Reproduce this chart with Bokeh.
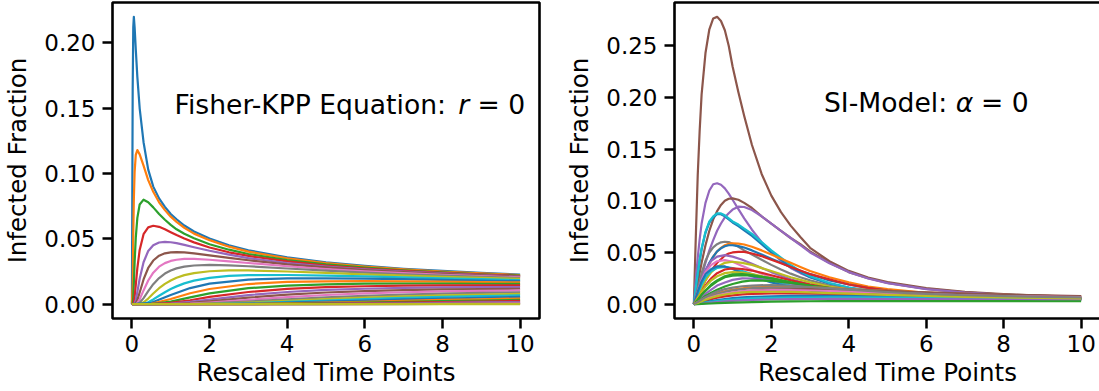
from bokeh.plotting import figure
from bokeh.layouts import row
from bokeh.models import Range1d, FixedTicker, Label, ColumnDataSource, NumeralTickFormatter
from bokeh.embed import file_html
from bokeh.resources import INLINE

# ---------------- data ----------------
x_ticks = [0, 2, 4, 6, 8, 10]
fisher_y_ticks = [0.0, 0.05, 0.10, 0.15, 0.20]
si_y_ticks = [0.0, 0.05, 0.10, 0.15, 0.20, 0.25]

x_label = "Rescaled Time Points"
y_label = "Infected Fraction"

# Fisher-KPP (r = 0): early-peaking curves on a fine time grid
fisher_t_fine = [0, 0.02, 0.035, 0.05, 0.07, 0.1, 0.14, 0.2, 0.3, 0.42, 0.55, 0.7, 0.85, 1.0,
                 1.15, 1.35, 1.6, 2.0, 2.5, 3, 4, 5, 6, 7, 8, 9, 10]
fisher_upper = [
    [0, 0.164, 0.212, 0.220, 0.212, 0.195, 0.174, 0.150, 0.124, 0.103, 0.090, 0.081, 0.0745, 0.069,
     0.0650, 0.0602, 0.0556, 0.0502, 0.0451, 0.0412, 0.0358, 0.0320, 0.0293, 0.0271, 0.0254, 0.0239, 0.0227],
    [0, 0.0155, 0.0527, 0.0803, 0.1012, 0.1143, 0.118, 0.1147, 0.106, 0.095, 0.086, 0.078, 0.072, 0.067,
     0.063, 0.0585, 0.054, 0.049, 0.044, 0.0402, 0.0350, 0.0314, 0.0287, 0.0266, 0.0249, 0.0235, 0.0223],
    [0, 0.0003, 0.0053, 0.0161, 0.0320, 0.0509, 0.0661, 0.0763, 0.0800, 0.0780, 0.0741, 0.0690, 0.0646, 0.0607,
     0.0573, 0.0539, 0.0504, 0.0459, 0.0417, 0.0384, 0.0337, 0.0304, 0.0279, 0.0259, 0.0243, 0.0229, 0.0218],
    [0, 0, 0.0002, 0.0013, 0.0055, 0.0148, 0.0275, 0.0415, 0.0536, 0.0588, 0.0600, 0.0592, 0.0574, 0.0551,
     0.0529, 0.0502, 0.0473, 0.0434, 0.0397, 0.0369, 0.0327, 0.0296, 0.0273, 0.0254, 0.0239, 0.0226, 0.0215],
    [0, 0, 0, 0.0001, 0.0006, 0.0033, 0.0093, 0.0194, 0.0321, 0.0407, 0.0451, 0.0472, 0.0477, 0.0474,
     0.0467, 0.0454, 0.0436, 0.0409, 0.0379, 0.0353, 0.0315, 0.0288, 0.0266, 0.0249, 0.0235, 0.0223, 0.0212],
    [0, 0, 0, 0, 0, 0.0007, 0.0031, 0.0089, 0.0189, 0.0277, 0.0334, 0.0371, 0.0389, 0.0397,
     0.0399, 0.0396, 0.0389, 0.0374, 0.0354, 0.0336, 0.0305, 0.0281, 0.0261, 0.0245, 0.0232, 0.0220, 0.0210],
    [0, 0, 0, 0, 0, 0, 0.0009, 0.0037, 0.0105, 0.0181, 0.0241, 0.0287, 0.0314, 0.0331,
     0.0340, 0.0346, 0.0346, 0.0340, 0.0328, 0.0315, 0.0290, 0.0269, 0.0252, 0.0238, 0.0225, 0.0215, 0.0205],
    [0, 0, 0, 0, 0, 0, 0, 0.0011, 0.0046, 0.0100, 0.0153, 0.0200, 0.0234, 0.0258,
     0.0274, 0.0287, 0.0296, 0.0300, 0.0297, 0.0290, 0.0273, 0.0256, 0.0242, 0.0229, 0.0218, 0.0209, 0.0200],
    [0, 0, 0, 0, 0, 0, 0, 0, 0.0014, 0.0043, 0.0081, 0.0122, 0.0155, 0.0181,
     0.0202, 0.0222, 0.0238, 0.0252, 0.0258, 0.0258, 0.0250, 0.0239, 0.0228, 0.0218, 0.0209, 0.0201, 0.0193],
    [0, 0, 0, 0, 0, 0, 0, 0, 0, 0.0015, 0.0036, 0.0064, 0.0091, 0.0116,
     0.0136, 0.0159, 0.0180, 0.0201, 0.0216, 0.0222, 0.0223, 0.0218, 0.0212, 0.0205, 0.0198, 0.0191, 0.0185],
]

# Fisher-KPP: slowly rising curves on a coarse time grid
fisher_t_coarse = [0, 0.5, 1, 1.5, 2, 3, 4, 5, 6, 7, 8, 9, 10]
fisher_lower = [
    [0, 0.0010, 0.0070, 0.0123, 0.0157, 0.0188, 0.0197, 0.0198, 0.0195, 0.0191, 0.0186, 0.0181, 0.0176],
    [0, 0.0003, 0.0039, 0.0083, 0.0116, 0.0154, 0.0170, 0.0175, 0.0176, 0.0175, 0.0172, 0.0169, 0.0166],
    [0, 0.0001, 0.0019, 0.0052, 0.0082, 0.0122, 0.0142, 0.0152, 0.0157, 0.0158, 0.0158, 0.0156, 0.0155],
    [0, 0, 0.0009, 0.0030, 0.0055, 0.0093, 0.0117, 0.0130, 0.0137, 0.0141, 0.0143, 0.0143, 0.0143],
    [0, 0, 0.0004, 0.0017, 0.0035, 0.0069, 0.0093, 0.0109, 0.0118, 0.0124, 0.0128, 0.0130, 0.0130],
    [0, 0, 0.0001, 0.0009, 0.0021, 0.0050, 0.0073, 0.0089, 0.0100, 0.0108, 0.0113, 0.0116, 0.0118],
    [0, 0, 0, 0.0004, 0.0012, 0.0033, 0.0054, 0.0070, 0.0082, 0.0091, 0.0097, 0.0101, 0.0105],
    [0, 0, 0, 0.0001, 0.0006, 0.0020, 0.0037, 0.0052, 0.0064, 0.0073, 0.0080, 0.0086, 0.0090],
    [0, 0, 0, 0, 0.0003, 0.0012, 0.0025, 0.0038, 0.0050, 0.0059, 0.0067, 0.0073, 0.0078],
    [0, 0, 0, 0, 0.0001, 0.0007, 0.0017, 0.0028, 0.0039, 0.0048, 0.0055, 0.0062, 0.0067],
    [0, 0, 0, 0, 0, 0.0004, 0.0011, 0.0019, 0.0028, 0.0036, 0.0043, 0.0049, 0.0055],
    [0, 0, 0, 0, 0, 0.0002, 0.0006, 0.0012, 0.0018, 0.0025, 0.0032, 0.0037, 0.0043],
    [0, 0, 0, 0, 0, 0, 0.0003, 0.0007, 0.0012, 0.0018, 0.0023, 0.0028, 0.0033],
    [0, 0, 0, 0, 0, 0, 0.0001, 0.0004, 0.0007, 0.0011, 0.0016, 0.0020, 0.0025],
    [0, 0, 0, 0, 0, 0, 0, 0.0002, 0.0004, 0.0006, 0.0010, 0.0013, 0.0016],
    [0, 0, 0, 0, 0, 0, 0, 0, 0.0002, 0.0003, 0.0005, 0.0007, 0.0010],
    [0, 0, 0, 0, 0, 0, 0, 0, 0, 0.0001, 0.0002, 0.0004, 0.0006],
    [0, 0, 0, 0, 0, 0, 0, 0, 0, 0, 0.0001, 0.0002, 0.0003],
    [0, 0, 0, 0, 0, 0, 0, 0, 0, 0, 0, 0, 0],
]

# SI-model (alpha = 0): the tall curves on a fine time grid
si_t_fine = [0, 0.05, 0.1, 0.15, 0.2, 0.3, 0.4, 0.5, 0.6, 0.7, 0.8, 0.9, 1.0, 1.15, 1.3, 1.5,
             1.75, 2.0, 2.25, 2.5, 2.75, 3.0, 3.5, 4, 4.5, 5, 6, 7, 8, 9, 10]
si_big = [
    [0, 0.065, 0.125, 0.168, 0.203, 0.243, 0.266, 0.2765, 0.278, 0.274, 0.265, 0.250, 0.230, 0.205, 0.182, 0.154,
     0.126, 0.105, 0.089, 0.076, 0.065, 0.0545, 0.0415, 0.0322, 0.0258, 0.0213, 0.0155, 0.0119, 0.0096, 0.0081, 0.0071],
    [0, 0.024, 0.045, 0.063, 0.078, 0.098, 0.110, 0.116, 0.117, 0.1155, 0.112, 0.107, 0.101, 0.092, 0.083, 0.072,
     0.060, 0.050, 0.042, 0.035, 0.030, 0.026, 0.020, 0.016, 0.0133, 0.0113, 0.0088, 0.0074, 0.0066, 0.006, 0.0056],
    [0, 0.010, 0.020, 0.030, 0.040, 0.057, 0.071, 0.082, 0.090, 0.096, 0.100, 0.102, 0.1024, 0.101, 0.098, 0.093,
     0.085, 0.078, 0.071, 0.064, 0.058, 0.051, 0.040, 0.031, 0.025, 0.0205, 0.0148, 0.0114, 0.0093, 0.0079, 0.0070],
    [0, 0.006, 0.012, 0.019, 0.026, 0.040, 0.052, 0.062, 0.071, 0.078, 0.084, 0.088, 0.0915, 0.0943, 0.094, 0.091,
     0.085, 0.078, 0.071, 0.064, 0.057, 0.050, 0.0395, 0.031, 0.0248, 0.0203, 0.0146, 0.0112, 0.0091, 0.0078, 0.0069],
    [0, 0.0155, 0.029, 0.042, 0.053, 0.069, 0.079, 0.084, 0.087, 0.087, 0.085, 0.082, 0.079, 0.0755, 0.0715, 0.066,
     0.058, 0.050, 0.043, 0.036, 0.031, 0.026, 0.0198, 0.0155, 0.0127, 0.0107, 0.0084, 0.0070, 0.0062, 0.0057, 0.0053],
    [0, 0.016, 0.030, 0.043, 0.054, 0.070, 0.080, 0.085, 0.0878, 0.0878, 0.086, 0.083, 0.080, 0.077, 0.073, 0.068,
     0.060, 0.052, 0.045, 0.038, 0.032, 0.027, 0.0205, 0.016, 0.013, 0.011, 0.0086, 0.0072, 0.0064, 0.0059, 0.0055],
    [0, 0.008, 0.015, 0.022, 0.030, 0.042, 0.050, 0.055, 0.058, 0.0598, 0.0604, 0.060, 0.0585, 0.0555, 0.052, 0.048,
     0.043, 0.038, 0.0335, 0.0295, 0.026, 0.023, 0.018, 0.0145, 0.012, 0.0103, 0.0082, 0.0070, 0.0062, 0.0057, 0.0053],
    [0, 0.005, 0.010, 0.016, 0.021, 0.031, 0.039, 0.046, 0.051, 0.0545, 0.057, 0.0583, 0.0588, 0.0586, 0.0577, 0.0555,
     0.052, 0.048, 0.044, 0.040, 0.036, 0.032, 0.026, 0.021, 0.017, 0.0145, 0.011, 0.0088, 0.0075, 0.0068, 0.0063],
    [0, 0.0055, 0.011, 0.0165, 0.022, 0.032, 0.040, 0.046, 0.051, 0.054, 0.056, 0.057, 0.057, 0.0562, 0.0548, 0.052,
     0.048, 0.044, 0.040, 0.036, 0.032, 0.029, 0.023, 0.019, 0.0155, 0.013, 0.0098, 0.0080, 0.0070, 0.0064, 0.0060],
    [0, 0.0035, 0.007, 0.011, 0.015, 0.023, 0.030, 0.035, 0.040, 0.0435, 0.047, 0.049, 0.050, 0.0506, 0.0505, 0.049,
     0.0465, 0.043, 0.0395, 0.036, 0.0325, 0.029, 0.024, 0.019, 0.0157, 0.013, 0.0098, 0.0080, 0.0070, 0.0063, 0.0058],
]
si_big_color_index = [5, 4, 5, 4, 0, 9, 7, 1, 0, 3]

# SI-model: the lower curves on a coarser time grid
si_t = [0, 0.1, 0.2, 0.3, 0.45, 0.6, 0.8, 1.0, 1.25, 1.5, 2, 2.5, 3, 3.5, 4, 5, 6, 7, 8, 9, 10]
si_small = [
    [0, 0.012, 0.024, 0.033, 0.042, 0.046, 0.0475, 0.046, 0.043, 0.039, 0.031, 0.024, 0.019, 0.015, 0.012, 0.0088, 0.007, 0.006, 0.0055, 0.0051, 0.0048],
    [0, 0.012, 0.023, 0.031, 0.038, 0.0415, 0.0426, 0.041, 0.037, 0.033, 0.026, 0.020, 0.016, 0.0128, 0.0105, 0.0078, 0.0063, 0.0055, 0.005, 0.0047, 0.0045],
    [0, 0.008, 0.016, 0.023, 0.031, 0.036, 0.040, 0.041, 0.040, 0.038, 0.032, 0.026, 0.021, 0.017, 0.014, 0.0098, 0.0077, 0.0065, 0.0058, 0.0053, 0.005],
    [0, 0.01, 0.019, 0.026, 0.032, 0.035, 0.036, 0.035, 0.032, 0.029, 0.023, 0.018, 0.0145, 0.0118, 0.0098, 0.0075, 0.0062, 0.0055, 0.005, 0.0047, 0.0045],
    [0, 0.012, 0.022, 0.029, 0.034, 0.0365, 0.0365, 0.034, 0.030, 0.027, 0.021, 0.0165, 0.013, 0.0105, 0.0088, 0.0068, 0.0057, 0.005, 0.0046, 0.0043, 0.0041],
    [0, 0.006, 0.012, 0.018, 0.025, 0.030, 0.0335, 0.0346, 0.034, 0.0325, 0.028, 0.023, 0.019, 0.0155, 0.013, 0.0093, 0.0073, 0.0062, 0.0055, 0.0051, 0.0048],
    [0, 0.006, 0.012, 0.017, 0.023, 0.027, 0.030, 0.031, 0.0305, 0.029, 0.025, 0.0205, 0.017, 0.014, 0.0117, 0.0085, 0.0068, 0.0058, 0.0052, 0.0048, 0.0046],
    [0, 0.004, 0.009, 0.013, 0.018, 0.022, 0.026, 0.0275, 0.028, 0.0275, 0.025, 0.021, 0.0175, 0.0148, 0.0125, 0.0093, 0.0074, 0.0063, 0.0056, 0.0052, 0.0049],
    [0, 0.003, 0.007, 0.010, 0.014, 0.018, 0.021, 0.0235, 0.025, 0.0248, 0.023, 0.020, 0.017, 0.0145, 0.0124, 0.0094, 0.0076, 0.0065, 0.0058, 0.0053, 0.005],
    [0, 0.003, 0.005, 0.008, 0.011, 0.014, 0.017, 0.0195, 0.0218, 0.023, 0.0225, 0.0205, 0.018, 0.0158, 0.0138, 0.0108, 0.0088, 0.0075, 0.0066, 0.006, 0.0056],
    [0, 0.004, 0.009, 0.013, 0.019, 0.023, 0.027, 0.0288, 0.029, 0.028, 0.025, 0.021, 0.0178, 0.015, 0.0128, 0.0096, 0.0077, 0.0066, 0.0059, 0.0055, 0.0052],
    [0, 0.002, 0.004, 0.006, 0.0085, 0.0105, 0.0125, 0.014, 0.0153, 0.0162, 0.0168, 0.0168, 0.0163, 0.0155, 0.0146, 0.0128, 0.0112, 0.0099, 0.0089, 0.0081, 0.0075],
    [0, 0.0015, 0.0035, 0.0055, 0.0078, 0.0098, 0.0118, 0.0133, 0.0146, 0.0154, 0.016, 0.016, 0.0156, 0.015, 0.0142, 0.0125, 0.011, 0.0097, 0.0087, 0.0079, 0.0073],
    [0, 0.001, 0.0025, 0.004, 0.006, 0.0077, 0.0095, 0.011, 0.0122, 0.0131, 0.0140, 0.0144, 0.0145, 0.0143, 0.0139, 0.0127, 0.0114, 0.0102, 0.0092, 0.0084, 0.0078],
    [0, 0.0012, 0.003, 0.0047, 0.0067, 0.0083, 0.0099, 0.0112, 0.0123, 0.013, 0.0135, 0.0135, 0.0132, 0.0127, 0.0121, 0.0108, 0.0096, 0.0086, 0.0078, 0.0072, 0.0067],
    [0, 0.0008, 0.002, 0.0033, 0.0049, 0.0062, 0.0075, 0.0085, 0.0094, 0.0099, 0.0103, 0.0103, 0.0101, 0.0098, 0.0094, 0.0086, 0.0078, 0.0071, 0.0065, 0.006, 0.0057],
    [0, 0.0005, 0.0012, 0.002, 0.003, 0.004, 0.005, 0.0058, 0.0065, 0.007, 0.0076, 0.0079, 0.008, 0.0079, 0.0078, 0.0074, 0.0069, 0.0065, 0.0061, 0.0058, 0.0055],
    [0, 0.0003, 0.0008, 0.0014, 0.0022, 0.003, 0.0038, 0.0045, 0.0051, 0.0056, 0.006, 0.0063, 0.0064, 0.0065, 0.0065, 0.0063, 0.006, 0.0057, 0.0054, 0.0052, 0.005],
    [0, 0.0002, 0.0005, 0.0009, 0.0014, 0.002, 0.0026, 0.0031, 0.0036, 0.004, 0.0045, 0.0048, 0.0049, 0.005, 0.005, 0.0049, 0.0048, 0.0046, 0.0044, 0.0042, 0.0041],
    [0, 0.0001, 0.0002, 0.0004, 0.0006, 0.0009, 0.0012, 0.0015, 0.0018, 0.002, 0.0024, 0.0026, 0.0028, 0.0029, 0.003, 0.003, 0.003, 0.0029, 0.0029, 0.0028, 0.0028],
    [0, 0.0012, 0.0028, 0.0043, 0.0062, 0.0078, 0.0093, 0.0104, 0.0113, 0.0118, 0.012, 0.0118, 0.0113, 0.0107, 0.0101, 0.0089, 0.0079, 0.0071, 0.0065, 0.006, 0.0056],
    [0, 0.002, 0.0045, 0.0068, 0.0097, 0.0121, 0.0145, 0.016, 0.0173, 0.018, 0.0185, 0.0178, 0.0166, 0.0153, 0.014, 0.0117, 0.0099, 0.0086, 0.0077, 0.007, 0.0065],
]
si_small_color_index = [4, 6, 8, 9, 0, 3, 8, 2, 4, 2, 2, 1, 7, 5, 6, 3, 0, 9, 4, 2, 8, 7]

tab10 = ["#1f77b4", "#ff7f0e", "#2ca02c", "#d62728", "#9467bd",
         "#8c564b", "#e377c2", "#7f7f7f", "#bcbd22", "#17becf"]

FONT = "DejaVu Sans"


def make_fig(y0, y1, yticks, frame_w, left_border, right_border):
    p = figure(frame_width=frame_w, frame_height=316,
               x_range=Range1d(-0.5, 10.5), y_range=Range1d(y0, y1),
               output_backend="svg", toolbar_location=None,
               min_border_left=left_border, min_border_right=right_border,
               min_border_top=2, min_border_bottom=73)
    p.xgrid.visible = False
    p.ygrid.visible = False
    p.outline_line_color = "black"
    p.outline_line_width = 2.6
    p.outline_line_alpha = 1.0
    p.background_fill_color = "white"
    p.border_fill_color = "white"
    for ax in (p.xaxis[0], p.yaxis[0]):
        ax.axis_line_color = None
        ax.major_tick_line_color = "black"
        ax.major_tick_line_width = 2.5
        ax.major_tick_out = 10
        ax.major_tick_in = 0
        ax.minor_tick_line_color = None
        ax.major_label_text_font = FONT
        ax.major_label_text_font_size = "23px"
        ax.major_label_text_color = "black"
        ax.axis_label_text_font = FONT
        ax.axis_label_text_font_size = "24.5px"
        ax.axis_label_text_font_style = "normal"
        ax.axis_label_text_color = "black"
    p.xaxis[0].ticker = FixedTicker(ticks=x_ticks)
    p.yaxis[0].ticker = FixedTicker(ticks=yticks)
    p.yaxis[0].formatter = NumeralTickFormatter(format="0.00")
    p.xaxis[0].major_label_standoff = 6
    p.yaxis[0].major_label_standoff = 7
    p.xaxis[0].axis_label_standoff = 3
    p.yaxis[0].axis_label_standoff = 9
    p.xaxis[0].axis_label = x_label
    p.yaxis[0].axis_label = y_label
    return p


def add_title(p, x, y, parts, size_px):
    # parts: (text, italic, x offset in em)
    for text, italic, off_em in parts:
        p.add_layout(Label(x=x, y=y, x_offset=off_em * size_px, text=text, text_font=FONT,
                           text_font_size=f"{size_px}px",
                           text_font_style="italic" if italic else "normal",
                           text_baseline="alphabetic", text_align="left",
                           text_color="black"))


# ---- left: Fisher-KPP ----
p1 = make_fig(-0.011, 0.231, fisher_y_ticks, 427, 108, 10)
xs1 = [fisher_t_fine] * len(fisher_upper) + [fisher_t_coarse] * len(fisher_lower)
ys1 = fisher_upper + fisher_lower
cols1 = [tab10[i % 10] for i in range(len(ys1))]
src1 = ColumnDataSource(dict(xs=xs1, ys=ys1, color=cols1))
p1.multi_line(xs="xs", ys="ys", line_color="color", line_width=2.2,
              line_join="round", source=src1)
add_title(p1, 1.1, 0.153, [("Fisher-KPP Equation:", False, 0.0),
                           ("r", True, 10.66), ("= 0", False, 11.389)], 26.6)

# ---- right: SI model ----
p2 = make_fig(-0.0139, 0.2919, si_y_ticks, 426, 125, 2)
xs2 = [si_t_fine] * len(si_big) + [si_t] * len(si_small)
ys2 = si_big + si_small
cols2 = [tab10[i] for i in si_big_color_index + si_small_color_index]
src2 = ColumnDataSource(dict(xs=xs2, ys=ys2, color=cols2))
p2.multi_line(xs="xs", ys="ys", line_color="color", line_width=2.2,
              line_join="round", source=src2)
add_title(p2, 3.36, 0.1955, [("SI-Model:", False, 0.0),
                             ("\u03b1", True, 4.949), ("= 0", False, 5.907)], 26.6)

layout = row(p1, p2)
open("out.html", "w").write(file_html(layout, INLINE))
